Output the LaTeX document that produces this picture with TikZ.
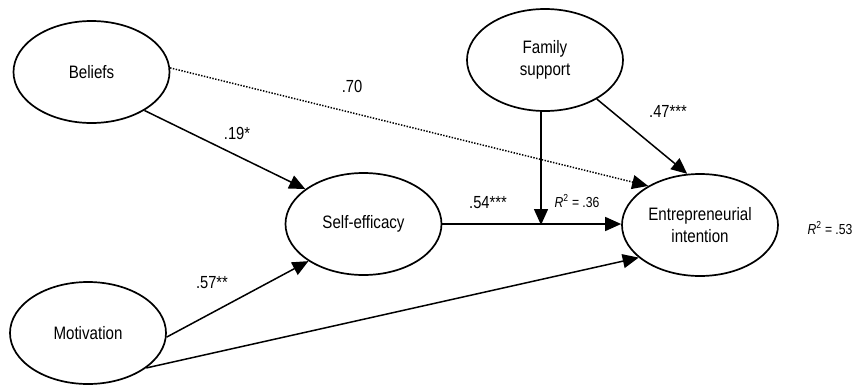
\documentclass[tikz,border=0pt]{standalone}
\usepackage{fontspec}
\setmainfont[FakeStretch=0.84]{Liberation Sans}
\usetikzlibrary{shapes.geometric,arrows.meta}
\begin{document}
\begin{tikzpicture}[x=1pt,y=-1pt,
  latent/.style={ellipse,draw,line width=1.7pt,minimum width=156pt,minimum height=102pt,inner sep=0pt,align=center,font=\fontsize{18}{21.5}\selectfont},
  path/.style={line width=1.5pt,-{Triangle[length=16pt,width=14pt]}},
  dotpath/.style={line width=1.5pt,dash pattern=on 1.4pt off 1.5pt,-{Triangle[length=16pt,width=14pt]}},
  coef/.style={font=\fontsize{17.5}{20}\selectfont,inner sep=0pt},
  rsq/.style={font=\fontsize{14.5}{17}\selectfont,inner sep=0pt}]
\useasboundingbox (0,0) rectangle (857,386);
\node[latent] (B) at (91.5,72) {Beliefs};
\node[latent] (FS) at (545,60) {Family\\support};
\node[latent] (SE) at (363.5,224) {Self-efficacy};
\node[latent] (EI) at (700,225) {Entrepreneurial\\intention};
\node[latent] (M) at (88,333) {Motivation};
\coordinate (mod) at (541,225);
\draw[path] (B.-36) -- (SE.149);
\draw[dotpath] (B.3) -- (EI.143);
\draw[path] (M.-3) -- (SE.214);
\draw[path] (M.-31) -- (EI.208);
\draw[path] (SE.east) -- (SE.east -| EI.west);
\draw[path] (mod |- FS.south) -- (mod);
\draw[path] (FS.-37) -- (EI.104);
\node[coef] (l70) at (352,86) {.70};
\node[coef] (l19) at (237,133) {.19*};
\node[coef] (l57) at (212,283) {.57**};
\node[coef] (l54) at (488,203) {.54***};
\node[coef] (l47) at (668,111) {.47***};
\node[rsq] (r36) at (577,201) {\textit{R}\textsuperscript{2} = .36};
\node[rsq] (r53) at (830,228) {\textit{R}\textsuperscript{2} = .53};
\end{tikzpicture}
\end{document}
